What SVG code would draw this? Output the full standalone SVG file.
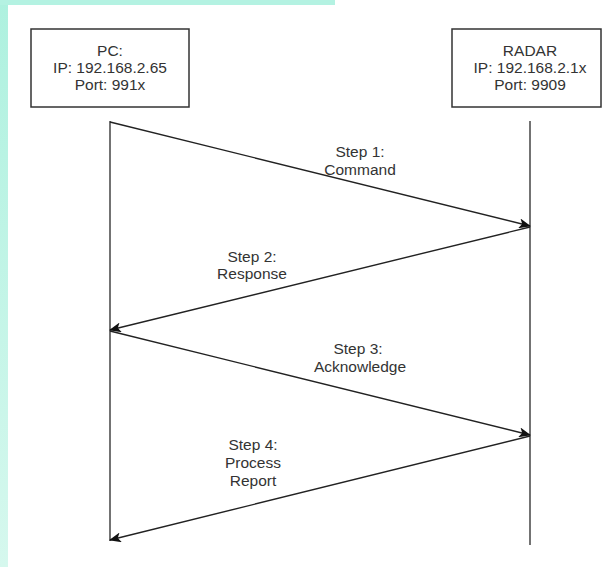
<svg xmlns="http://www.w3.org/2000/svg" width="603" height="567" viewBox="0 0 603 567">
<style>
text{font-family:"Liberation Sans",Arial,sans-serif;font-size:15.5px;fill:#333;text-anchor:middle}
.box{fill:#fff;stroke:#333;stroke-width:1.5}
.life{stroke:#444;stroke-width:1.5;fill:none}
.msg{stroke:#222;stroke-width:1.4;fill:none;marker-end:url(#ah)}
</style>
<defs>
<linearGradient id="bg" x1="0" y1="0" x2="0" y2="1">
<stop offset="0" stop-color="#aef1df"/>
<stop offset="1" stop-color="#d6f8ee"/>
</linearGradient>
<marker id="ah" viewBox="0 0 12 10" refX="11" refY="5" markerWidth="12" markerHeight="10" markerUnits="userSpaceOnUse" orient="auto">
<path d="M0,0 L12,5 L0,10 L3,5 Z" fill="#111"/>
</marker>
</defs>
<rect x="0" y="0" width="603" height="567" fill="#fff"/>
<rect x="0" y="0" width="8" height="567" fill="url(#bg)"/>
<rect x="0" y="0" width="335" height="5" fill="#b4f2e2"/>
<g id="pc">
<rect class="box" x="31" y="29" width="158" height="78"/>
<text x="110" y="56">PC:</text>
<text x="110" y="73">IP: 192.168.2.65</text>
<text x="110" y="90">Port: 991x</text>
</g>
<g id="radar">
<rect class="box" x="452" y="29" width="149" height="78"/>
<text x="530" y="56">RADAR</text>
<text x="530" y="73">IP: 192.168.2.1x</text>
<text x="530" y="90">Port: 9909</text>
</g>
<g id="connectors">
<line class="life" x1="110" y1="121" x2="110" y2="541"/>
<line class="life" x1="530" y1="121" x2="530" y2="545"/>
<line class="msg" x1="110" y1="122" x2="530" y2="226"/>
<line class="msg" x1="530" y1="227" x2="110" y2="330"/>
<line class="msg" x1="110" y1="331" x2="530" y2="435"/>
<line class="msg" x1="530" y1="436" x2="110" y2="540"/>
</g>
<g id="labels">
<text x="360" y="157">Step 1:</text>
<text x="360" y="175">Command</text>
<text x="252" y="262">Step 2:</text>
<text x="252" y="279">Response</text>
<text x="358" y="354">Step 3:</text>
<text x="360" y="372">Acknowledge</text>
<text x="253" y="450">Step 4:</text>
<text x="253" y="468">Process</text>
<text x="253" y="486">Report</text>
</g>
</svg>
